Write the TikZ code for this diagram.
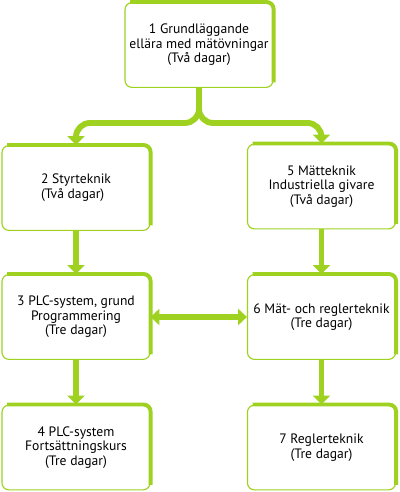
\documentclass[tikz,border=0pt]{standalone}
\usepackage{fontspec}
\setmainfont{PT Sans}
\usetikzlibrary{arrows.meta}
\definecolor{lime}{RGB}{158,209,32}

\begin{document}
\begin{tikzpicture}[x=0.025cm,y=-0.025cm,
  box/.style={draw=lime, line width=0.8pt, rounded corners=5, fill=white,
    minimum width=3.7cm, minimum height=2.12cm, inner sep=0pt,
    align=center, font=\fontsize{9.7}{10.4}\selectfont},
  edge/.style={draw=lime, line width=2.8pt, rounded corners=5},
  conn/.style={draw=lime, line width=4.2pt, rounded corners=10,
    -{Triangle[width=0.42cm,length=0.22cm]}},
  both/.style={draw=lime, line width=4.2pt,
    {Triangle[width=0.4cm,length=0.22cm]}-{Triangle[width=0.4cm,length=0.22cm]}}]
\useasboundingbox (0,0) rectangle (400,492);

% boxes
\node[box] (b1) at (199,45) {1 Grundläggande\\ellära med mätövningar\\(Två dagar)};
\node[box] (b2) at (76,188) {\begin{tabular}{@{}l@{}}2 Styrteknik\\(Två dagar)\end{tabular}};
\node[box] (b3) at (76,317) {3 PLC-system, grund\\Programmering\\(Tre dagar)};
\node[box] (b4) at (76,447.5) {4 PLC-system\\Fortsättningskurs\\(Tre dagar)};
\node[box] (b5) at (321.5,186.5) {5 Mätteknik\\Industriella givare\\(Två dagar)};
\node[box] (b6) at (321.5,317) {6 Mät- och reglerteknik\\(Tre dagar)};
\node[box] (b7) at (321.5,447.5) {7 Reglerteknik\\(Tre dagar)};

% heavy top and right edges
\foreach \i in {1,...,7}
  \draw[edge] ([yshift=4]b\i.south east) -- (b\i.north east) -- ([xshift=4]b\i.north west);

% connectors
\draw[conn] (b1.south) -- ++(0,35) -| (b2.north);
\draw[conn] (b1.south) -- ++(0,35) -| (b5.north);
\draw[conn] (b2.south) -- (b3.north);
\draw[conn] (b3.south) -- (b4.north);
\draw[conn] (b5.south) -- (b6.north);
\draw[conn] (b6.south) -- (b7.north);
\draw[both] (b3.east) -- (b6.west);
\end{tikzpicture}
\end{document}
